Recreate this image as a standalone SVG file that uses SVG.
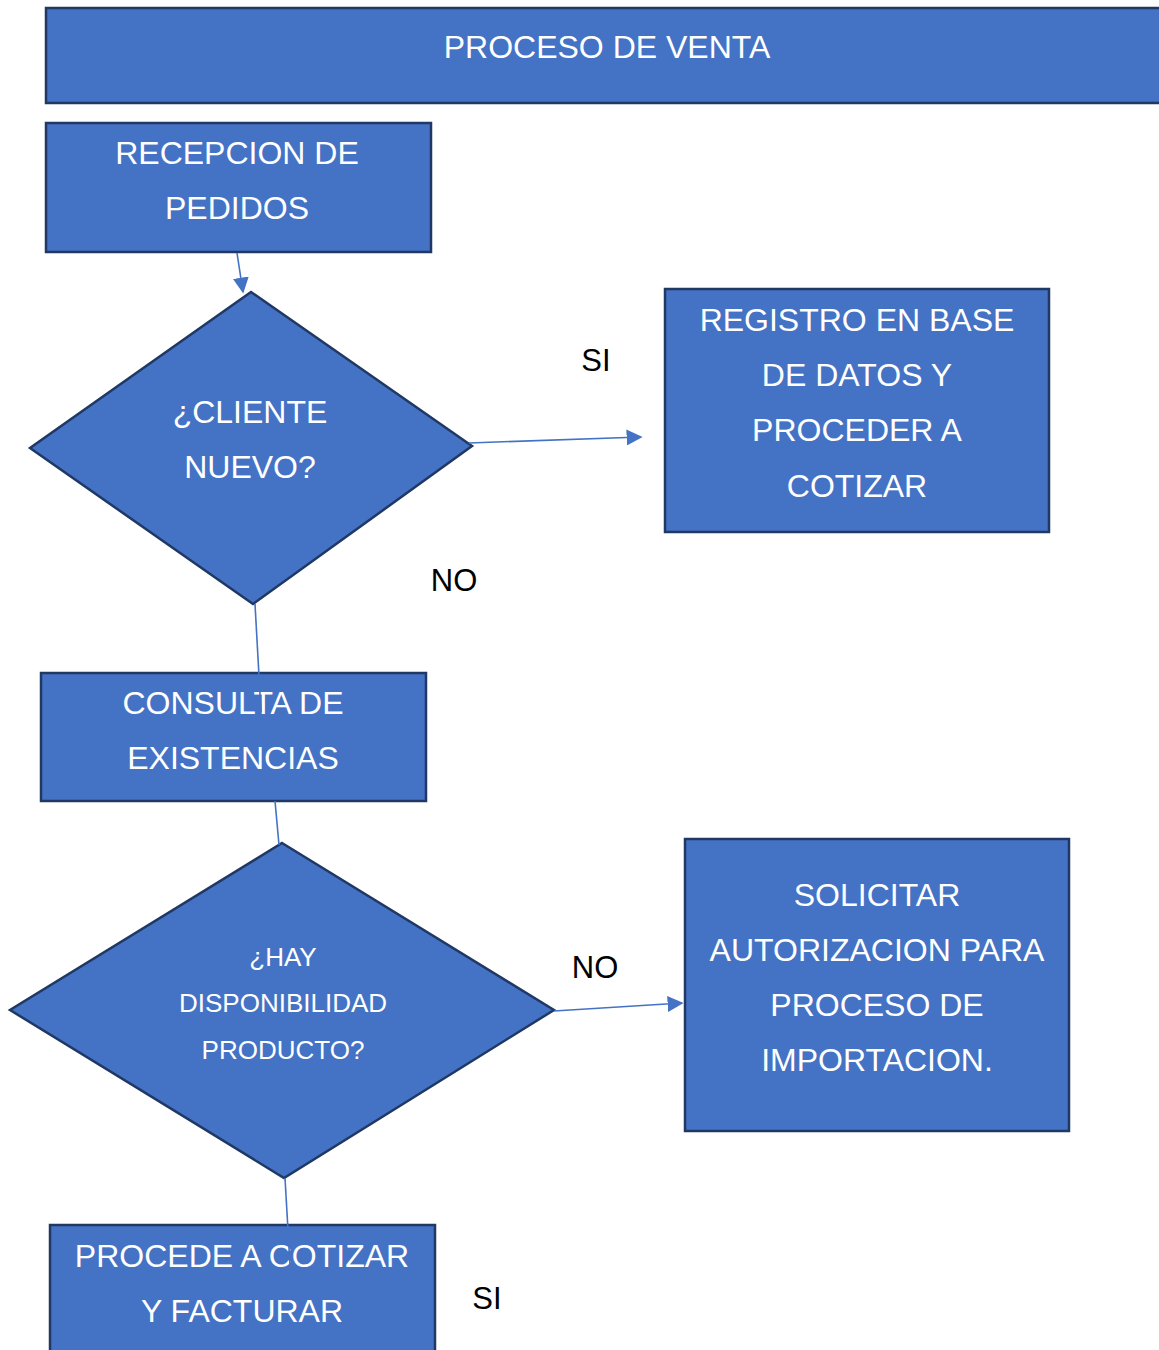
<svg xmlns="http://www.w3.org/2000/svg" width="1159" height="1350" viewBox="0 0 1159 1350">
<defs>
<style>
.n{fill:#4472C4;stroke:#1F3864;stroke-width:2.5}
.t{font-family:"Liberation Sans",Arial,sans-serif;font-size:32px;fill:#ffffff;text-anchor:middle}
.s{font-family:"Liberation Sans",Arial,sans-serif;font-size:26px;fill:#ffffff;text-anchor:middle}
.l{font-family:"Liberation Sans",Arial,sans-serif;font-size:31px;fill:#000000;text-anchor:middle}
.c{stroke:#4472C4;stroke-width:1.6;fill:none}
</style>
<marker id="b" viewBox="0 0 10 10" refX="9" refY="5" markerWidth="16" markerHeight="16" orient="auto" markerUnits="userSpaceOnUse">
<path d="M0,0L10,5L0,10z" fill="#4472C4"/>
</marker>
</defs>
<rect width="1159" height="1350" fill="#ffffff"/>
<g id="header">
<rect class="n" x="46" y="8" width="1120" height="95"/>
<text class="t" x="607" y="58">PROCESO DE VENTA</text>
</g>
<g id="recepcion">
<rect class="n" x="46" y="123" width="385" height="129"/>
<text class="t" x="237" y="164">RECEPCION DE</text>
<text class="t" x="237" y="219">PEDIDOS</text>
</g>
<g id="cliente-nuevo">
<polygon class="n" points="251,292 472,446 253,604 30,448"/>
<text class="t" x="250" y="423">¿CLIENTE</text>
<text class="t" x="250" y="478">NUEVO?</text>
</g>
<g id="registro">
<rect class="n" x="665" y="289" width="384" height="243"/>
<text class="t" x="857" y="331">REGISTRO EN BASE</text>
<text class="t" x="857" y="386">DE DATOS Y</text>
<text class="t" x="857" y="441">PROCEDER A</text>
<text class="t" x="857" y="497">COTIZAR</text>
</g>
<g id="consulta">
<rect class="n" x="41" y="673" width="385" height="128"/>
<text class="t" x="233" y="714">CONSULTA DE</text>
<text class="t" x="233" y="769">EXISTENCIAS</text>
</g>
<g id="disponibilidad">
<polygon class="n" points="282,843 554,1010 284,1178 10,1010"/>
<text class="s" x="283" y="966">¿HAY</text>
<text class="s" x="283" y="1012">DISPONIBILIDAD</text>
<text class="s" x="283" y="1059">PRODUCTO?</text>
</g>
<g id="solicitar">
<rect class="n" x="685" y="839" width="384" height="292"/>
<text class="t" x="877" y="906">SOLICITAR</text>
<text class="t" x="877" y="961">AUTORIZACION PARA</text>
<text class="t" x="877" y="1016">PROCESO DE</text>
<text class="t" x="877" y="1071">IMPORTACION.</text>
</g>
<g id="procede">
<rect class="n" x="50" y="1225" width="385" height="140"/>
<text class="t" x="242" y="1267">PROCEDE A COTIZAR</text>
<text class="t" x="242" y="1322">Y FACTURAR</text>
</g>
<g id="connectors">
<line class="c" x1="237" y1="253" x2="243" y2="292" marker-end="url(#b)"/>
<line class="c" x1="469" y1="443" x2="641" y2="437" marker-end="url(#b)"/>
<line class="c" x1="255" y1="604" x2="261" y2="712"/>
<line class="c" x1="275" y1="801" x2="279" y2="845"/>
<line class="c" x1="554" y1="1011" x2="682" y2="1003" marker-end="url(#b)"/>
<line class="c" x1="285" y1="1178" x2="290" y2="1265"/>
</g>
<g id="labels">
<text class="l" x="596" y="371">SI</text>
<text class="l" x="454" y="591">NO</text>
<text class="l" x="595" y="978">NO</text>
<text class="l" x="487" y="1309">SI</text>
</g>
</svg>
